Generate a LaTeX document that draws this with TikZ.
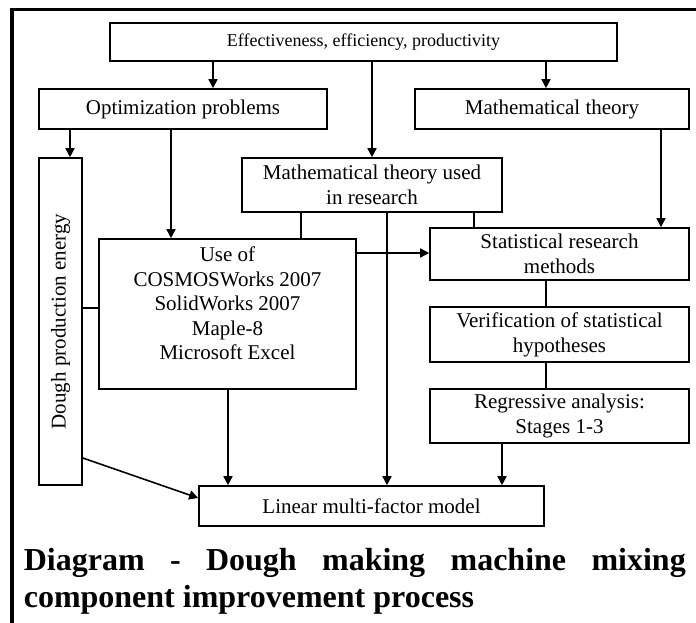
\documentclass[tikz,border=0pt]{standalone}
\usepackage{fontspec}
\setmainfont{Liberation Serif}
\usetikzlibrary{arrows.meta}
\tikzstyle{box}=[draw, inner sep=0pt, align=center, font=\fontsize{21}{25}\selectfont]
\tikzstyle{arr}=[-{Triangle[length=9pt,width=9pt]}]

\begin{document}
\begin{tikzpicture}[x=1pt, y=-1pt, line width=1.6pt]
\useasboundingbox (0,0) rectangle (696,623);
% Frame
    \draw[line width=3.5pt] (12,623) -- (12,9.5) -- (696,9.5);
% Boxes
    \node[box, minimum width=507pt, minimum height=38pt, font=\fontsize{18}{21}\selectfont] (eff) at (363.5,42) {Effectiveness, efficiency, productivity};
    \node[box, minimum width=288pt, minimum height=40pt] (opt) at (183,109) {Optimization problems};
    \node[box, minimum width=274pt, minimum height=40pt] (math) at (552,109) {Mathematical theory};
    \node[box, minimum width=43pt, minimum height=327pt] (dough) at (60.5,321.5) {\rotatebox{90}{Dough production energy}};
    \node[box, minimum width=260pt, minimum height=54pt] (used) at (372,185) {Mathematical theory used\\in research};
    \node[box, minimum width=257pt, minimum height=150pt,
        label={[align=center, anchor=north, inner sep=0pt, yshift=-8pt, font=\fontsize{21}{24.5}\selectfont]north:Use of\\COSMOSWorks 2007\\SolidWorks 2007\\Maple-8\\Microsoft Excel}] (use) at (227.5,314) {};
    \node[box, minimum width=259pt, minimum height=52pt] (stat) at (559.5,254) {Statistical research\\methods};
    \node[box, minimum width=259pt, minimum height=55pt] (verif) at (559.5,334.5) {Verification of statistical\\hypotheses};
    \node[box, minimum width=259pt, minimum height=54pt] (regr) at (559.5,416) {Regressive analysis:\\Stages 1-3};
    \node[box, minimum width=345pt, minimum height=40pt] (lin) at (371.5,506) {Linear multi-factor model};
% Arrows
    \draw[arr] (eff.south -| 213,0) -- (opt.north -| 213,0);
    \draw[arr] (eff.south -| used.north) -- (used.north);
    \draw[arr] (eff.south -| 546,0) -- (math.north -| 546,0);
    \draw[arr] (opt.south -| 70,0) -- (dough.north -| 70,0);
    \draw[arr] (opt.south -| 171,0) -- (use.north -| 171,0);
    \draw[arr] (math.south -| 661,0) -- (stat.north -| 661,0);
    \draw (used.south -| 301,0) -- (use.north -| 301,0);
    \draw (used.south -| 474,0) -- (stat.north -| 474,0);
    \draw[arr] (used.south -| 387,0) -- (lin.north -| 387,0);
    \draw (dough.east |- 0,308) -- (use.west |- 0,308);
    \draw[arr] (use.east |- 0,253) -- (stat.west |- 0,253);
    \draw (stat.south -| 546,0) -- (verif.north -| 546,0);
    \draw (verif.south -| 546,0) -- (regr.north -| 546,0);
    \draw[arr] (use.south -| 228,0) -- (lin.north -| 228,0);
    \draw[arr] (regr.south -| 502,0) -- (lin.north -| 502,0);
    \draw[arr] (dough.east |- 0,458) -- (lin.west |- 0,498);
% Caption
    \node[anchor=base west, inner sep=0pt, font=\fontsize{32}{37}\selectfont\bfseries] (cap1) at (23,570) {\makebox[662pt][s]{Diagram - Dough making machine mixing}};
    \node[anchor=base west, inner sep=0pt, font=\fontsize{32}{37}\selectfont\bfseries] (cap2) at (23,607) {component improvement process};
\end{tikzpicture}
\end{document}
